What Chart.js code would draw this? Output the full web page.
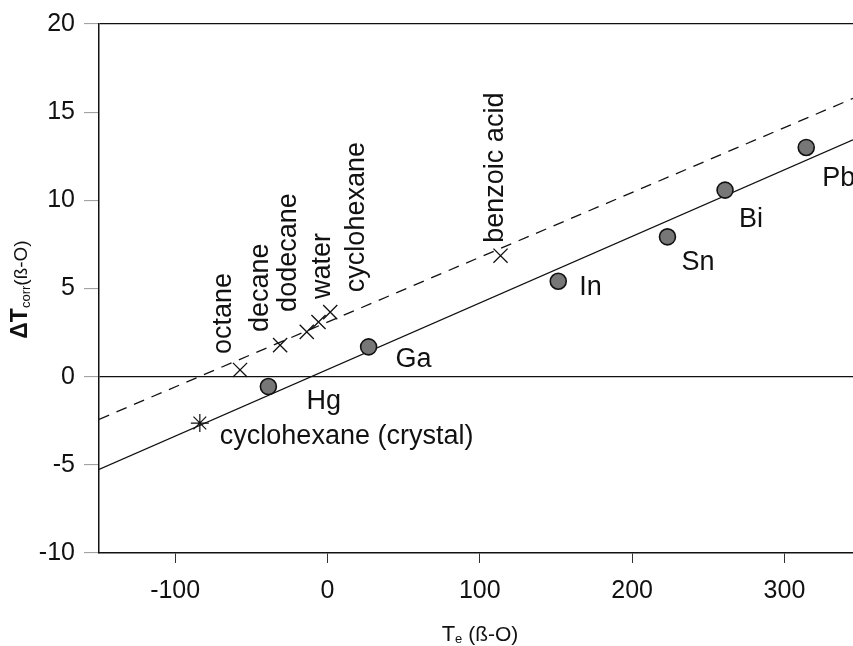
<!DOCTYPE html>
<html>
<head>
<meta charset="utf-8">
<script src="https://cdn.jsdelivr.net/npm/chart.js@4.4.1/dist/chart.umd.min.js"></script>
<style>
	html, body { margin: 0; padding: 0; background: #fff; overflow: hidden; }
	#plot { display: block; }
</style>
</head>
<body>
<canvas id="plot" width="853" height="646"></canvas>
<script>
(function() {
	'use strict';

	/* ═══ DATA ═══ */

	var metalNames = [ 'Hg', 'Ga', 'In', 'Sn', 'Bi', 'Pb' ];
	var metalTe    = [ -38.8, 27, 151.5, 223.2, 261, 314.3 ];
	var metalDT    = [ -0.56, 1.69, 5.41, 7.93, 10.58, 13.0 ];

	var solventNames = [ 'octane', 'decane', 'dodecane', 'water', 'cyclohexane', 'benzoic acid' ];
	var solventTe    = [ -57.4, -31.1, -13.6, -5.9, 1.8, 113.6 ];
	var solventDT    = [ 0.38, 1.79, 2.54, 3.1, 3.66, 6.86 ];

	var crystalName = 'cyclohexane (crystal)';
	var crystalTe   = [ -83.8 ];
	var crystalDT   = [ -2.63 ];

	// fitted lines, read at the plot edges
	var fitTe       = [ -150, 345 ];
	var metalFitDT  = [ -5.26, 13.43 ];
	var liquidFitDT = [ -2.42, 15.78 ];

	var xTicks = [ -100, 0, 100, 200, 300 ];
	var yTicks = [ -10, -5, 0, 5, 10, 15, 20 ];
	var xMin = -150, xMax = 345;
	var yMin = -10,  yMax = 20;

	var FONT = '"Liberation Sans", Arial, Helvetica, sans-serif';
	var INK  = '#111';

	function pts( xs, ys ) {
		var out = [];
		for ( var i = 0; i < xs.length; i++ ) out.push({ x: xs[i], y: ys[i] });
		return out;
	}

	/* ═══ LABELS ═══ */

	// pixel offsets from each marker: [dx, dy]
	var metalLabelOff   = [ [ 38, 22 ], [ 27, 20 ], [ 21, 14 ], [ 14, 33 ], [ 14, 37 ], [ 16, 39 ] ];
	var solventLabelOff = [ [ -17, -16 ], [ -20, -13 ], [ -18, -20 ], [ 4, -23 ], [ 26, -20 ], [ -5, -13 ] ];
	var crystalLabelOff = [ 20, 21 ];

	function drawRich( ctx, parts, x, y, align ) {
		var total = 0, i;
		for ( i = 0; i < parts.length; i++ ) {
			ctx.font = parts[i].font;
			parts[i].w = ctx.measureText( parts[i].text ).width;
			total += parts[i].w;
		}
		var cx = align === 'center' ? x - total / 2 : x;
		for ( i = 0; i < parts.length; i++ ) {
			ctx.font = parts[i].font;
			ctx.fillText( parts[i].text, cx, y + ( parts[i].dy || 0 ) );
			cx += parts[i].w;
		}
	}

	var labelPlugin = {
		id: 'pointLabels',
		afterDatasetsDraw: function( chart ) {
			var ctx = chart.ctx;
			var i, p;
			ctx.save();
			ctx.fillStyle = INK;
			ctx.font = '27px ' + FONT;
			ctx.textAlign = 'left';
			ctx.textBaseline = 'alphabetic';

			var metals = chart.getDatasetMeta( 0 ).data;
			for ( i = 0; i < metals.length; i++ ) {
				p = metals[i];
				ctx.fillText( metalNames[i], p.x + metalLabelOff[i][0], p.y + metalLabelOff[i][1] );
			}

			p = chart.getDatasetMeta( 2 ).data[0];
			ctx.fillText( crystalName, p.x + crystalLabelOff[0], p.y + crystalLabelOff[1] );

			var solvents = chart.getDatasetMeta( 1 ).data;
			ctx.textBaseline = 'middle';
			for ( i = 0; i < solvents.length; i++ ) {
				p = solvents[i];
				ctx.save();
				ctx.translate( p.x + solventLabelOff[i][0], p.y + solventLabelOff[i][1] );
				ctx.rotate( -Math.PI / 2 );
				ctx.fillText( solventNames[i], 0, 0 );
				ctx.restore();
			}
			ctx.restore();
		}
	};

	var titlePlugin = {
		id: 'axisTitles',
		afterDraw: function( chart ) {
			var ctx = chart.ctx;
			var area = chart.chartArea;
			ctx.save();
			ctx.fillStyle = INK;
			ctx.textBaseline = 'alphabetic';

			// x title: T_e (ß-O)
			drawRich( ctx, [
				{ text: 'T', font: '22px ' + FONT },
				{ text: 'e', font: '13px ' + FONT, dy: 2 },
				{ text: ' (ß-O)', font: '21px ' + FONT }
			], ( area.left + area.right ) / 2 + 4, 641, 'center' );

			// y title: ΔT_corr(ß-O)
			ctx.translate( 27, ( area.top + area.bottom ) / 2 + 1 );
			ctx.rotate( -Math.PI / 2 );
			drawRich( ctx, [
				{ text: 'ΔT', font: 'bold 23px ' + FONT },
				{ text: 'corr', font: '13px ' + FONT, dy: 3 },
				{ text: '(ß-O)', font: '19px ' + FONT }
			], 0, 0, 'center' );
			ctx.restore();
		}
	};

	/* ═══ CHART ═══ */

	function fixTicks( values ) {
		return function( scale ) {
			scale.ticks = values.map( function( v ) { return { value: v }; } );
		};
	}

	var el = document.getElementById( 'plot' );

	new Chart( el.getContext( '2d' ), {
		type: 'scatter',
		data: {
			datasets: [
				{
					label: 'metals',
					data: pts( metalTe, metalDT ),
					pointStyle: 'circle',
					pointRadius: 8,
					backgroundColor: '#777',
					borderColor: INK,
					borderWidth: 1.6
				},
				{
					label: 'liquids',
					data: pts( solventTe, solventDT ),
					pointStyle: 'crossRot',
					pointRadius: 10,
					borderColor: INK,
					borderWidth: 1.3
				},
				{
					label: 'crystal',
					data: pts( crystalTe, crystalDT ),
					pointStyle: 'star',
					pointRadius: 9,
					borderColor: INK,
					borderWidth: 1.2
				},
				{
					type: 'line',
					label: 'metal fit',
					data: pts( fitTe, metalFitDT ),
					borderColor: INK,
					borderWidth: 1.3,
					pointRadius: 0,
					fill: false
				},
				{
					type: 'line',
					label: 'liquid fit',
					data: pts( fitTe, liquidFitDT ),
					borderColor: INK,
					borderWidth: 1.3,
					borderDash: [ 11, 8 ],
					pointRadius: 0,
					fill: false
				}
			]
		},
		options: {
			responsive: false,
			animation: false,
			layout: {
				autoPadding: false,
				padding: { top: 21, right: 0, left: 0, bottom: 0 }
			},
			plugins: {
				legend: { display: false },
				tooltip: { enabled: false }
			},
			scales: {
				x: {
					type: 'linear',
					min: xMin,
					max: xMax,
					afterBuildTicks: fixTicks( xTicks ),
					afterFit: function( s ) {
						s.height = 93;
						s.paddingLeft = 0;
						s.paddingRight = 0;
					},
					border: { display: true, color: INK, width: 1.5 },
					grid: {
						drawOnChartArea: false,
						drawTicks: true,
						tickLength: 10,
						tickColor: '#333',
						tickWidth: 1
					},
					ticks: {
						color: INK,
						padding: 13,
						maxRotation: 0,
						font: { size: 25, family: FONT }
					}
				},
				y: {
					type: 'linear',
					min: yMin,
					max: yMax,
					afterBuildTicks: fixTicks( yTicks ),
					afterFit: function( s ) { s.width = 99; },
					border: { display: true, color: INK, width: 1.5 },
					grid: {
						drawTicks: true,
						tickLength: 15,
						tickColor: '#999',
						tickWidth: 1,
						lineWidth: 1.2,
						color: function( c ) {
							if ( ! c.tick ) return 'transparent';
							return ( c.tick.value === 0 || c.tick.value === yMax ) ? INK : 'transparent';
						}
					},
					ticks: {
						color: INK,
						padding: 9,
						font: { size: 25, family: FONT }
					}
				}
			}
		},
		plugins: [ labelPlugin, titlePlugin ]
	});

})();
</script>
</body>
</html>
